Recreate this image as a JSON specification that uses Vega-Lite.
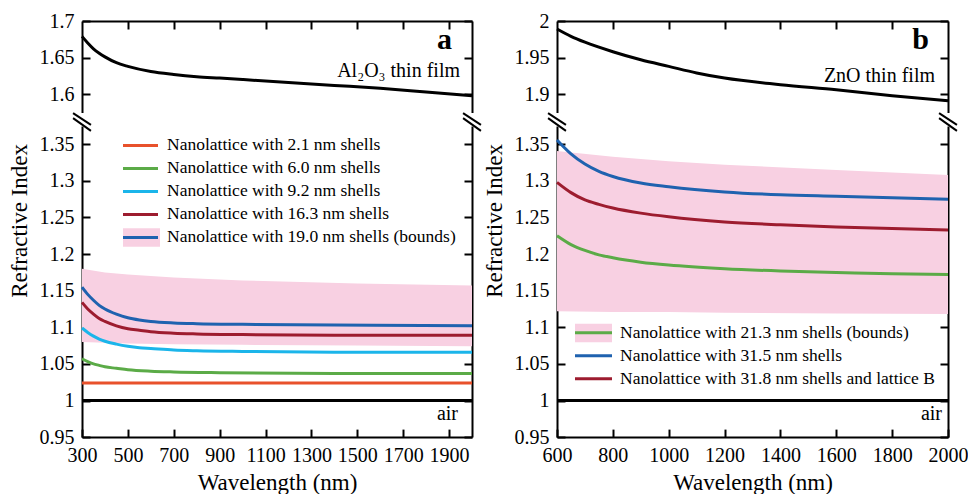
{
"$schema": "https://vega.github.io/schema/vega-lite/v6.json",
"background": "white",
"padding": {"left": 8, "top": 11, "right": 5, "bottom": 0},
"bounds": "flush",
"columns": 2,
"spacing": {"row": 13, "column": 85},
"resolve": {"scale": {"stroke": "independent", "fill": "independent"}, "legend": {"stroke": "independent", "fill": "independent"}},
"config": {
 "view": {"stroke": null},
 "font": "Liberation Serif",
 "text": {"font": "Liberation Serif", "color": "black"},
 "axis": {"domainColor": "black", "domainWidth": 2, "tickColor": "black", "tickWidth": 2, "tickSize": -8, "labelFont": "Liberation Serif", "labelFontSize": 20, "labelColor": "black", "labelPadding": 16, "labelFlush": false, "labelOverlap": false, "titleFont": "Liberation Serif", "titleFontSize": 23, "titleFontWeight": "normal", "titleColor": "black", "grid": false},
 "legend": {"orient": "none", "padding": 0, "title": null, "labelFont": "Liberation Serif", "labelFontSize": 17.5, "labelColor": "black", "labelLimit": 500, "clipHeight": 23, "rowPadding": 0, "symbolOpacity": 1}
},
"datasets": {
 "a_film": [
  {"w":300,"n":1.679},{"w":325,"n":1.670},{"w":350,"n":1.662},{"w":375,"n":1.656},{"w":400,"n":1.651},{"w":450,"n":1.643},{"w":500,"n":1.638},{"w":600,"n":1.631},{"w":700,"n":1.627},{"w":800,"n":1.624},{"w":900,"n":1.622},{"w":1000,"n":1.620},{"w":1200,"n":1.616},{"w":1400,"n":1.612},{"w":1600,"n":1.608},{"w":1800,"n":1.603},{"w":2000,"n":1.598}
 ],
 "b_film": [
  {"w":600,"n":1.989},{"w":650,"n":1.979},{"w":700,"n":1.971},{"w":800,"n":1.958},{"w":900,"n":1.947},{"w":1000,"n":1.938},{"w":1100,"n":1.929},{"w":1200,"n":1.922},{"w":1400,"n":1.913},{"w":1600,"n":1.906},{"w":1800,"n":1.898},{"w":2000,"n":1.891}
 ],
 "a_band": [
  {"w":300,"lo":1.080,"hi":1.180,"series":"Nanolattice with 19.0 nm shells (bounds)"},
  {"w":400,"lo":1.079,"hi":1.175,"series":"Nanolattice with 19.0 nm shells (bounds)"},
  {"w":500,"lo":1.078,"hi":1.172,"series":"Nanolattice with 19.0 nm shells (bounds)"},
  {"w":700,"lo":1.077,"hi":1.168,"series":"Nanolattice with 19.0 nm shells (bounds)"},
  {"w":1000,"lo":1.076,"hi":1.164,"series":"Nanolattice with 19.0 nm shells (bounds)"},
  {"w":1500,"lo":1.075,"hi":1.160,"series":"Nanolattice with 19.0 nm shells (bounds)"},
  {"w":2000,"lo":1.074,"hi":1.157,"series":"Nanolattice with 19.0 nm shells (bounds)"}
 ],
 "b_band": [
  {"w":600,"lo":1.122,"hi":1.341,"series":"Nanolattice with 21.3 nm shells (bounds)"},
  {"w":800,"lo":1.121,"hi":1.333,"series":"Nanolattice with 21.3 nm shells (bounds)"},
  {"w":1000,"lo":1.121,"hi":1.327,"series":"Nanolattice with 21.3 nm shells (bounds)"},
  {"w":1200,"lo":1.120,"hi":1.322,"series":"Nanolattice with 21.3 nm shells (bounds)"},
  {"w":1600,"lo":1.119,"hi":1.315,"series":"Nanolattice with 21.3 nm shells (bounds)"},
  {"w":2000,"lo":1.118,"hi":1.308,"series":"Nanolattice with 21.3 nm shells (bounds)"}
 ],
 "a_lines": [
  {"w":300,"n":1.024,"series":"Nanolattice with 2.1 nm shells"},
  {"w":1000,"n":1.024,"series":"Nanolattice with 2.1 nm shells"},
  {"w":2000,"n":1.024,"series":"Nanolattice with 2.1 nm shells"},
  {"w":300,"n":1.057,"series":"Nanolattice with 6.0 nm shells"},
  {"w":325,"n":1.053,"series":"Nanolattice with 6.0 nm shells"},
  {"w":350,"n":1.050,"series":"Nanolattice with 6.0 nm shells"},
  {"w":375,"n":1.048,"series":"Nanolattice with 6.0 nm shells"},
  {"w":400,"n":1.046,"series":"Nanolattice with 6.0 nm shells"},
  {"w":450,"n":1.044,"series":"Nanolattice with 6.0 nm shells"},
  {"w":500,"n":1.042,"series":"Nanolattice with 6.0 nm shells"},
  {"w":600,"n":1.040,"series":"Nanolattice with 6.0 nm shells"},
  {"w":700,"n":1.039,"series":"Nanolattice with 6.0 nm shells"},
  {"w":900,"n":1.038,"series":"Nanolattice with 6.0 nm shells"},
  {"w":1400,"n":1.037,"series":"Nanolattice with 6.0 nm shells"},
  {"w":2000,"n":1.037,"series":"Nanolattice with 6.0 nm shells"},
  {"w":300,"n":1.099,"series":"Nanolattice with 9.2 nm shells"},
  {"w":325,"n":1.093,"series":"Nanolattice with 9.2 nm shells"},
  {"w":350,"n":1.088,"series":"Nanolattice with 9.2 nm shells"},
  {"w":375,"n":1.084,"series":"Nanolattice with 9.2 nm shells"},
  {"w":400,"n":1.081,"series":"Nanolattice with 9.2 nm shells"},
  {"w":450,"n":1.077,"series":"Nanolattice with 9.2 nm shells"},
  {"w":500,"n":1.074,"series":"Nanolattice with 9.2 nm shells"},
  {"w":550,"n":1.072,"series":"Nanolattice with 9.2 nm shells"},
  {"w":600,"n":1.071,"series":"Nanolattice with 9.2 nm shells"},
  {"w":700,"n":1.069,"series":"Nanolattice with 9.2 nm shells"},
  {"w":800,"n":1.068,"series":"Nanolattice with 9.2 nm shells"},
  {"w":1000,"n":1.067,"series":"Nanolattice with 9.2 nm shells"},
  {"w":1400,"n":1.066,"series":"Nanolattice with 9.2 nm shells"},
  {"w":2000,"n":1.066,"series":"Nanolattice with 9.2 nm shells"},
  {"w":300,"n":1.134,"series":"Nanolattice with 16.3 nm shells"},
  {"w":325,"n":1.125,"series":"Nanolattice with 16.3 nm shells"},
  {"w":350,"n":1.118,"series":"Nanolattice with 16.3 nm shells"},
  {"w":375,"n":1.112,"series":"Nanolattice with 16.3 nm shells"},
  {"w":400,"n":1.108,"series":"Nanolattice with 16.3 nm shells"},
  {"w":450,"n":1.102,"series":"Nanolattice with 16.3 nm shells"},
  {"w":500,"n":1.098,"series":"Nanolattice with 16.3 nm shells"},
  {"w":550,"n":1.096,"series":"Nanolattice with 16.3 nm shells"},
  {"w":600,"n":1.094,"series":"Nanolattice with 16.3 nm shells"},
  {"w":700,"n":1.092,"series":"Nanolattice with 16.3 nm shells"},
  {"w":800,"n":1.091,"series":"Nanolattice with 16.3 nm shells"},
  {"w":1000,"n":1.090,"series":"Nanolattice with 16.3 nm shells"},
  {"w":1400,"n":1.089,"series":"Nanolattice with 16.3 nm shells"},
  {"w":2000,"n":1.089,"series":"Nanolattice with 16.3 nm shells"},
  {"w":300,"n":1.155,"series":"Nanolattice with 19.0 nm shells (bounds)"},
  {"w":325,"n":1.145,"series":"Nanolattice with 19.0 nm shells (bounds)"},
  {"w":350,"n":1.137,"series":"Nanolattice with 19.0 nm shells (bounds)"},
  {"w":375,"n":1.130,"series":"Nanolattice with 19.0 nm shells (bounds)"},
  {"w":400,"n":1.125,"series":"Nanolattice with 19.0 nm shells (bounds)"},
  {"w":450,"n":1.118,"series":"Nanolattice with 19.0 nm shells (bounds)"},
  {"w":500,"n":1.113,"series":"Nanolattice with 19.0 nm shells (bounds)"},
  {"w":550,"n":1.110,"series":"Nanolattice with 19.0 nm shells (bounds)"},
  {"w":600,"n":1.108,"series":"Nanolattice with 19.0 nm shells (bounds)"},
  {"w":700,"n":1.106,"series":"Nanolattice with 19.0 nm shells (bounds)"},
  {"w":800,"n":1.105,"series":"Nanolattice with 19.0 nm shells (bounds)"},
  {"w":1000,"n":1.104,"series":"Nanolattice with 19.0 nm shells (bounds)"},
  {"w":1400,"n":1.103,"series":"Nanolattice with 19.0 nm shells (bounds)"},
  {"w":2000,"n":1.102,"series":"Nanolattice with 19.0 nm shells (bounds)"}
 ],
 "b_lines": [
  {"w":600,"n":1.225,"series":"Nanolattice with 21.3 nm shells (bounds)"},
  {"w":650,"n":1.213,"series":"Nanolattice with 21.3 nm shells (bounds)"},
  {"w":700,"n":1.205,"series":"Nanolattice with 21.3 nm shells (bounds)"},
  {"w":750,"n":1.199,"series":"Nanolattice with 21.3 nm shells (bounds)"},
  {"w":800,"n":1.195,"series":"Nanolattice with 21.3 nm shells (bounds)"},
  {"w":900,"n":1.189,"series":"Nanolattice with 21.3 nm shells (bounds)"},
  {"w":1000,"n":1.185,"series":"Nanolattice with 21.3 nm shells (bounds)"},
  {"w":1200,"n":1.180,"series":"Nanolattice with 21.3 nm shells (bounds)"},
  {"w":1400,"n":1.177,"series":"Nanolattice with 21.3 nm shells (bounds)"},
  {"w":1600,"n":1.175,"series":"Nanolattice with 21.3 nm shells (bounds)"},
  {"w":1800,"n":1.173,"series":"Nanolattice with 21.3 nm shells (bounds)"},
  {"w":2000,"n":1.172,"series":"Nanolattice with 21.3 nm shells (bounds)"},
  {"w":600,"n":1.356,"series":"Nanolattice with 31.5 nm shells"},
  {"w":650,"n":1.337,"series":"Nanolattice with 31.5 nm shells"},
  {"w":700,"n":1.323,"series":"Nanolattice with 31.5 nm shells"},
  {"w":750,"n":1.313,"series":"Nanolattice with 31.5 nm shells"},
  {"w":800,"n":1.306,"series":"Nanolattice with 31.5 nm shells"},
  {"w":900,"n":1.297,"series":"Nanolattice with 31.5 nm shells"},
  {"w":1000,"n":1.292,"series":"Nanolattice with 31.5 nm shells"},
  {"w":1200,"n":1.285,"series":"Nanolattice with 31.5 nm shells"},
  {"w":1400,"n":1.281,"series":"Nanolattice with 31.5 nm shells"},
  {"w":1600,"n":1.279,"series":"Nanolattice with 31.5 nm shells"},
  {"w":1800,"n":1.277,"series":"Nanolattice with 31.5 nm shells"},
  {"w":2000,"n":1.275,"series":"Nanolattice with 31.5 nm shells"},
  {"w":600,"n":1.298,"series":"Nanolattice with 31.8 nm shells and lattice B"},
  {"w":650,"n":1.284,"series":"Nanolattice with 31.8 nm shells and lattice B"},
  {"w":700,"n":1.274,"series":"Nanolattice with 31.8 nm shells and lattice B"},
  {"w":750,"n":1.268,"series":"Nanolattice with 31.8 nm shells and lattice B"},
  {"w":800,"n":1.263,"series":"Nanolattice with 31.8 nm shells and lattice B"},
  {"w":900,"n":1.256,"series":"Nanolattice with 31.8 nm shells and lattice B"},
  {"w":1000,"n":1.251,"series":"Nanolattice with 31.8 nm shells and lattice B"},
  {"w":1200,"n":1.244,"series":"Nanolattice with 31.8 nm shells and lattice B"},
  {"w":1400,"n":1.240,"series":"Nanolattice with 31.8 nm shells and lattice B"},
  {"w":1600,"n":1.237,"series":"Nanolattice with 31.8 nm shells and lattice B"},
  {"w":1800,"n":1.235,"series":"Nanolattice with 31.8 nm shells and lattice B"},
  {"w":2000,"n":1.233,"series":"Nanolattice with 31.8 nm shells and lattice B"}
 ]
},
"concat": [
 {
  "width": 390, "height": 91.5,
  "resolve": {"axis": {"x": "independent", "y": "independent"}},
  "layer": [
   {"data": {"name": "a_film"},
    "mark": {"type": "line", "color": "black", "strokeWidth": 3, "interpolate": "monotone"},
    "encoding": {
     "x": {"field": "w", "type": "quantitative", "scale": {"domain": [300, 2000], "nice": false, "zero": false}, "axis": {"orient": "top", "values": [500,700,900,1100,1300,1500,1700,1900], "labels": false, "title": null}},
     "y": {"field": "n", "type": "quantitative", "scale": {"domain": [1.575, 1.7], "nice": false, "zero": false}, "axis": {"orient": "left", "values": [1.6,1.65,1.7], "format": "~g", "title": null}}
    }},
   {"data": {"values": [{}]},
    "mark": {"type": "text", "text": "a", "font": "Liberation Serif", "fontSize": 30, "fontWeight": "bold", "align": "right", "baseline": "alphabetic", "dx": -20, "dy": 28, "color": "black"},
    "encoding": {
     "x": {"datum": 2000, "type": "quantitative", "axis": null},
     "y": {"datum": 1.7, "type": "quantitative", "axis": {"orient": "right", "values": [1.6,1.65,1.7], "labels": false, "title": null}}
    }},
   {"data": {"values": [{}]},
    "mark": {"type": "text", "text": "Al₂O₃ thin film", "font": "Liberation Serif", "fontSize": 20, "align": "right", "baseline": "alphabetic", "dx": -12, "dy": 56, "color": "black"},
    "encoding": {
     "x": {"datum": 2000, "type": "quantitative", "axis": null},
     "y": {"datum": 1.7, "type": "quantitative", "axis": null}
    }}
  ]
 },
 {
  "width": 391, "height": 91.5,
  "resolve": {"axis": {"x": "independent", "y": "independent"}},
  "layer": [
   {"data": {"name": "b_film"},
    "mark": {"type": "line", "color": "black", "strokeWidth": 3, "interpolate": "monotone"},
    "encoding": {
     "x": {"field": "w", "type": "quantitative", "scale": {"domain": [600, 2000], "nice": false, "zero": false}, "axis": {"orient": "top", "values": [800,1000,1200,1400,1600,1800], "labels": false, "title": null}},
     "y": {"field": "n", "type": "quantitative", "scale": {"domain": [1.875, 2.0], "nice": false, "zero": false}, "axis": {"orient": "left", "values": [1.9,1.95,2], "format": "~g", "title": null}}
    }},
   {"data": {"values": [{}]},
    "mark": {"type": "text", "text": "b", "font": "Liberation Serif", "fontSize": 30, "fontWeight": "bold", "align": "right", "baseline": "alphabetic", "dx": -19, "dy": 28, "color": "black"},
    "encoding": {
     "x": {"datum": 2000, "type": "quantitative", "axis": null},
     "y": {"datum": 2.0, "type": "quantitative", "axis": {"orient": "right", "values": [1.9,1.95,2], "labels": false, "title": null}}
    }},
   {"data": {"values": [{}]},
    "mark": {"type": "text", "text": "ZnO thin film", "font": "Liberation Serif", "fontSize": 20, "align": "right", "baseline": "alphabetic", "dx": -13, "dy": 61, "color": "black"},
    "encoding": {
     "x": {"datum": 2000, "type": "quantitative", "axis": null},
     "y": {"datum": 2.0, "type": "quantitative", "axis": null}
    }}
  ]
 },
 {
  "width": 390, "height": 311.1,
  "resolve": {"axis": {"x": "independent", "y": "independent"}},
  "layer": [
   {"data": {"name": "a_band"},
    "mark": {"type": "area", "opacity": 1},
    "encoding": {
     "x": {"field": "w", "type": "quantitative", "scale": {"domain": [300, 2000], "nice": false, "zero": false}, "axis": {"orient": "bottom", "values": [300,500,700,900,1100,1300,1500,1700,1900], "format": "d", "title": "Wavelength (nm)", "titlePadding": 6}},
     "y": {"field": "lo", "type": "quantitative", "scale": {"domain": [0.95, 1.375], "nice": false, "zero": false}, "axis": {"orient": "left", "values": [0.95,1,1.05,1.1,1.15,1.2,1.25,1.3,1.35], "format": "~g", "title": "Refractive Index", "titleY": 94.4, "titlePadding": 8}},
     "y2": {"field": "hi"},
     "fill": {"field": "series", "type": "nominal", "scale": {"domain": ["Nanolattice with 19.0 nm shells (bounds)"], "range": ["#f8d0e2"]}, "legend": {"legendX": 41, "legendY": 99.9, "symbolType": "M-1,-0.5H1V0.5H-1Z", "symbolSize": 1369, "symbolStrokeWidth": 0, "labelExpr": "''"}}
    }},
   {"data": {"name": "a_lines"},
    "mark": {"type": "line", "strokeWidth": 3, "interpolate": "monotone"},
    "encoding": {
     "x": {"field": "w", "type": "quantitative", "axis": null},
     "y": {"field": "n", "type": "quantitative", "axis": null},
     "stroke": {"field": "series", "type": "nominal", "scale": {"domain": ["Nanolattice with 2.1 nm shells", "Nanolattice with 6.0 nm shells", "Nanolattice with 9.2 nm shells", "Nanolattice with 16.3 nm shells", "Nanolattice with 19.0 nm shells (bounds)"], "range": ["#e8512b", "#5bab47", "#1bb5ea", "#9d1c2f", "#1f62af"]}, "legend": {"legendX": 39.5, "legendY": 7.9, "symbolType": "stroke", "symbolSize": 1225, "symbolStrokeWidth": 3, "labelOffset": 7.5}}
    }},
   {"data": {"values": [{}]},
    "mark": {"type": "rule", "color": "black", "strokeWidth": 3},
    "encoding": {
     "y": {"datum": 1, "type": "quantitative", "axis": {"orient": "right", "values": [0.95,1,1.05,1.1,1.15,1.2,1.25,1.3,1.35], "labels": false, "title": null}}
    }},
   {"data": {"values": [{}]},
    "mark": {"type": "text", "text": "air", "font": "Liberation Serif", "fontSize": 20, "align": "right", "baseline": "alphabetic", "dx": -14, "dy": -17, "color": "black"},
    "encoding": {
     "x": {"datum": 2000, "type": "quantitative", "axis": null},
     "y": {"datum": 0.95, "type": "quantitative", "axis": null}
    }},
   {"data": {"values": [{}]},
    "mark": {"type": "rule", "color": "black", "strokeWidth": 2},
    "encoding": {"x": {"datum": 261, "type": "quantitative", "axis": null}, "x2": {"datum": 339}, "y": {"datum": 1.3925, "type": "quantitative", "axis": null}, "y2": {"datum": 1.3766}}},
   {"data": {"values": [{}]},
    "mark": {"type": "rule", "color": "black", "strokeWidth": 2},
    "encoding": {"x": {"datum": 261, "type": "quantitative", "axis": null}, "x2": {"datum": 339}, "y": {"datum": 1.3857, "type": "quantitative", "axis": null}, "y2": {"datum": 1.3684}}},
   {"data": {"values": [{}]},
    "mark": {"type": "rule", "color": "black", "strokeWidth": 2},
    "encoding": {"x": {"datum": 1961, "type": "quantitative", "axis": null}, "x2": {"datum": 2039}, "y": {"datum": 1.3925, "type": "quantitative", "axis": null}, "y2": {"datum": 1.3766}}},
   {"data": {"values": [{}]},
    "mark": {"type": "rule", "color": "black", "strokeWidth": 2},
    "encoding": {"x": {"datum": 1961, "type": "quantitative", "axis": null}, "x2": {"datum": 2039}, "y": {"datum": 1.3857, "type": "quantitative", "axis": null}, "y2": {"datum": 1.3684}}}
  ]
 },
 {
  "width": 391, "height": 311.1,
  "resolve": {"axis": {"x": "independent", "y": "independent"}},
  "layer": [
   {"data": {"name": "b_band"},
    "mark": {"type": "area", "opacity": 1},
    "encoding": {
     "x": {"field": "w", "type": "quantitative", "scale": {"domain": [600, 2000], "nice": false, "zero": false}, "axis": {"orient": "bottom", "values": [600,800,1000,1200,1400,1600,1800,2000], "format": "d", "title": "Wavelength (nm)", "titlePadding": 6}},
     "y": {"field": "lo", "type": "quantitative", "scale": {"domain": [0.95, 1.375], "nice": false, "zero": false}, "axis": {"orient": "left", "values": [0.95,1,1.05,1.1,1.15,1.2,1.25,1.3,1.35], "format": "~g", "title": "Refractive Index", "titleY": 94.4, "titlePadding": 8}},
     "y2": {"field": "hi"},
     "fill": {"field": "series", "type": "nominal", "scale": {"domain": ["Nanolattice with 21.3 nm shells (bounds)"], "range": ["#f8d0e2"]}, "legend": {"legendX": 18, "legendY": 195.4, "symbolType": "M-1,-0.5H1V0.5H-1Z", "symbolSize": 1369, "symbolStrokeWidth": 0, "labelExpr": "''"}}
    }},
   {"data": {"name": "b_lines"},
    "mark": {"type": "line", "strokeWidth": 3, "interpolate": "monotone"},
    "encoding": {
     "x": {"field": "w", "type": "quantitative", "axis": null},
     "y": {"field": "n", "type": "quantitative", "axis": null},
     "stroke": {"field": "series", "type": "nominal", "scale": {"domain": ["Nanolattice with 21.3 nm shells (bounds)", "Nanolattice with 31.5 nm shells", "Nanolattice with 31.8 nm shells and lattice B"], "range": ["#5bab47", "#1f62af", "#9d1c2f"]}, "legend": {"legendX": 16.5, "legendY": 195.2, "symbolType": "stroke", "symbolSize": 1369, "symbolStrokeWidth": 3, "labelOffset": 6.5}}
    }},
   {"data": {"values": [{}]},
    "mark": {"type": "rule", "color": "black", "strokeWidth": 3},
    "encoding": {
     "y": {"datum": 1, "type": "quantitative", "axis": {"orient": "right", "values": [0.95,1,1.05,1.1,1.15,1.2,1.25,1.3,1.35], "labels": false, "title": null}}
    }},
   {"data": {"values": [{}]},
    "mark": {"type": "text", "text": "air", "font": "Liberation Serif", "fontSize": 20, "align": "right", "baseline": "alphabetic", "dx": -6, "dy": -17, "color": "black"},
    "encoding": {
     "x": {"datum": 2000, "type": "quantitative", "axis": null},
     "y": {"datum": 0.95, "type": "quantitative", "axis": null}
    }},
   {"data": {"values": [{}]},
    "mark": {"type": "rule", "color": "black", "strokeWidth": 2},
    "encoding": {"x": {"datum": 568, "type": "quantitative", "axis": null}, "x2": {"datum": 632}, "y": {"datum": 1.3925, "type": "quantitative", "axis": null}, "y2": {"datum": 1.3766}}},
   {"data": {"values": [{}]},
    "mark": {"type": "rule", "color": "black", "strokeWidth": 2},
    "encoding": {"x": {"datum": 568, "type": "quantitative", "axis": null}, "x2": {"datum": 632}, "y": {"datum": 1.3857, "type": "quantitative", "axis": null}, "y2": {"datum": 1.3684}}},
   {"data": {"values": [{}]},
    "mark": {"type": "rule", "color": "black", "strokeWidth": 2},
    "encoding": {"x": {"datum": 1968, "type": "quantitative", "axis": null}, "x2": {"datum": 2032}, "y": {"datum": 1.3925, "type": "quantitative", "axis": null}, "y2": {"datum": 1.3766}}},
   {"data": {"values": [{}]},
    "mark": {"type": "rule", "color": "black", "strokeWidth": 2},
    "encoding": {"x": {"datum": 1968, "type": "quantitative", "axis": null}, "x2": {"datum": 2032}, "y": {"datum": 1.3857, "type": "quantitative", "axis": null}, "y2": {"datum": 1.3684}}}
  ]
 }
]
}
